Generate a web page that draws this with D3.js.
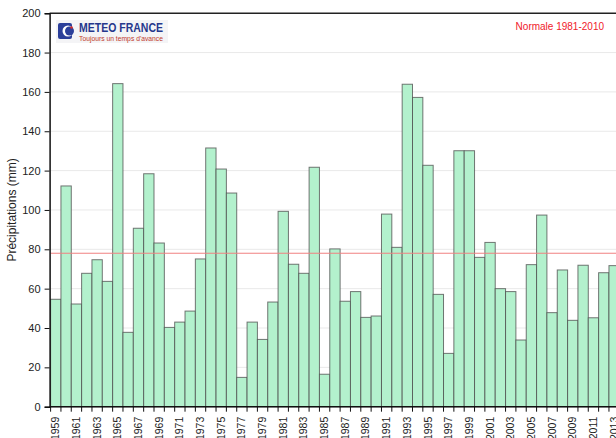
<!DOCTYPE html>
<html>
<head>
<meta charset="utf-8">
<script src="https://cdn.jsdelivr.net/npm/d3@7"></script>
<style>
  body { margin: 0; background: #fff; overflow: hidden; }
  text { font-family: "Liberation Sans", Arial, sans-serif; }
</style>
</head>
<body>
<script>
// annual rainfall
const years = d3.range(1959, 2014);
const rain = [54.6, 112.2, 52.2, 67.8, 74.7, 63.7, 164.2, 37.8, 90.7, 118.4,
              83.2, 40.3, 43.0, 48.6, 75.1, 131.5, 120.8, 108.6, 14.9, 43.0,
              34.2, 53.2, 99.3, 72.4, 67.8, 121.7, 16.5, 80.2, 53.6, 58.5,
              45.4, 46.1, 97.9, 81.0, 163.9, 157.2, 122.7, 57.1, 27.1, 130.1,
              130.1, 75.9, 83.5, 60.0, 58.5, 33.9, 72.2, 97.4, 47.8, 69.5,
              43.9, 71.9, 45.2, 68.1, 71.7];
const normale = 78.0;
const yTicks = [0, 20, 40, 60, 80, 100, 120, 140, 160, 180, 200];

const w = 616, h = 438;
const mLeft = 50.6, mRight = 619.3, mTop = 13.2, mBottom = 406.7;

const svg = d3.select("body").append("svg")
    .attr("width", w)
    .attr("height", h);

const xScale = d3.scaleBand()
    .domain(years)
    .range([mLeft, mRight]);

const yScale = d3.scaleLinear()
    .domain([0, 200])
    .range([mBottom, mTop]);

// grid
svg.selectAll("line.grid")
    .data(yTicks.slice(1, -1))
    .join("line")
    .attr("class", "grid")
    .attr("x1", mLeft).attr("x2", w)
    .attr("y1", d => yScale(d)).attr("y2", d => yScale(d))
    .attr("stroke", "#e9e9e9")
    .attr("stroke-width", 1);

// bars
svg.selectAll("rect.bar")
    .data(rain)
    .join("rect")
    .attr("class", "bar")
    .attr("x", (d, i) => xScale(years[i]))
    .attr("y", d => yScale(d))
    .attr("width", xScale.bandwidth())
    .attr("height", d => yScale(0) - yScale(d))
    .attr("fill", "#b3f1cd")
    .attr("stroke", "#4a4a4a")
    .attr("stroke-opacity", 0.75)
    .attr("stroke-width", 1);

// normale line
svg.append("line")
    .attr("x1", mLeft).attr("x2", w)
    .attr("y1", yScale(normale)).attr("y2", yScale(normale))
    .attr("stroke", "#f08080")
    .attr("stroke-width", 1);

// top frame line
svg.append("line")
    .attr("x1", mLeft - 1).attr("x2", w)
    .attr("y1", mTop).attr("y2", mTop)
    .attr("stroke", "#222")
    .attr("stroke-width", 1.5);

// y axis
const yAxis = d3.axisLeft(yScale)
    .tickValues(yTicks)
    .tickSize(5)
    .tickPadding(4);
const gy = svg.append("g")
    .attr("transform", `translate(${mLeft - 1},0)`)
    .call(yAxis);
gy.select(".domain").attr("stroke", "#111").attr("stroke-width", 1.5);
gy.selectAll(".tick line").attr("stroke", "#111");
gy.selectAll(".tick text")
    .attr("font-size", 11)
    .attr("fill", "#222")
    .style("font-family", "Liberation Sans, Arial, sans-serif");

// x axis: ticks on band edges, labels every 2 years
svg.append("line")
    .attr("x1", mLeft - 1).attr("x2", w)
    .attr("y1", mBottom).attr("y2", mBottom)
    .attr("stroke", "#111")
    .attr("stroke-width", 1.5);

svg.selectAll("line.xtick")
    .data(years)
    .join("line")
    .attr("class", "xtick")
    .attr("x1", d => xScale(d)).attr("x2", d => xScale(d))
    .attr("y1", mBottom).attr("y2", mBottom + 5)
    .attr("stroke", "#111");

svg.selectAll("text.xlab")
    .data(years.filter((d, i) => i % 2 === 0))
    .join("text")
    .attr("class", "xlab")
    .attr("transform", d => `translate(${xScale(d) + xScale.bandwidth() / 2 + 3.5},${mBottom + 10}) rotate(-90)`)
    .attr("text-anchor", "end")
    .attr("font-size", 10.5)
    .attr("fill", "#222")
    .text(d => d);

// y title
svg.append("text")
    .attr("transform", `translate(16,${(mTop + mBottom) / 2}) rotate(-90)`)
    .attr("text-anchor", "middle")
    .attr("font-size", 12)
    .attr("fill", "#222")
    .text("Précipitations (mm)");

// legend text
svg.append("text")
    .attr("x", 604)
    .attr("y", 30)
    .attr("text-anchor", "end")
    .attr("font-size", 10)
    .attr("fill", "#f0202a")
    .text("Normale 1981-2010");

// logo
const logo = svg.append("g").attr("transform", "translate(56,20)");
logo.append("rect")
    .attr("x", 0).attr("y", 0)
    .attr("width", 112).attr("height", 23)
    .attr("fill", "#f4f4f6");
logo.append("rect")
    .attr("x", 2).attr("y", 3)
    .attr("width", 14).attr("height", 16)
    .attr("rx", 2)
    .attr("fill", "#2b3f9a");
logo.append("circle")
    .attr("cx", 12).attr("cy", 11)
    .attr("r", 5.5)
    .attr("fill", "#ffffff");
logo.append("circle")
    .attr("cx", 13.5).attr("cy", 11)
    .attr("r", 4.5)
    .attr("fill", "#2b3f9a");
logo.append("circle")
    .attr("cx", 15.5).attr("cy", 7.5)
    .attr("r", 1.3)
    .attr("fill", "#d42a2a");
logo.append("text")
    .attr("x", 23).attr("y", 12)
    .attr("font-size", 12)
    .attr("font-weight", "bold")
    .attr("fill", "#25378c")
    .attr("textLength", 84)
    .attr("lengthAdjust", "spacingAndGlyphs")
    .text("METEO FRANCE");
logo.append("text")
    .attr("x", 23).attr("y", 21)
    .attr("font-size", 7.5)
    .attr("fill", "#c0392b")
    .attr("textLength", 84)
    .attr("lengthAdjust", "spacingAndGlyphs")
    .text("Toujours un temps d'avance");
</script>
</body>
</html>
